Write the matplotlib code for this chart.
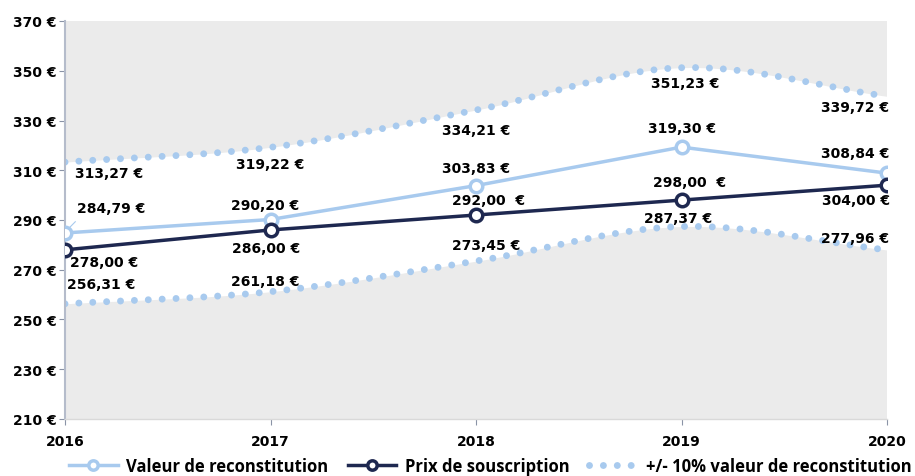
import matplotlib
matplotlib.use("Agg")
import matplotlib.pyplot as plt
import numpy as np

plt.rcParams['font.family'] = ['DejaVu Sans']
plt.rcParams['font.weight'] = 'bold'

# data
years = [2016, 2017, 2018, 2019, 2020]
valeur = [284.79, 290.20, 303.83, 319.30, 308.84]
prix = [278.00, 286.00, 292.00, 298.00, 304.00]
haut = [313.27, 319.22, 334.21, 351.23, 339.72]
bas = [256.31, 261.18, 273.45, 287.37, 277.96]
yticks = [210, 230, 250, 270, 290, 310, 330, 350, 370]

prix_labels = ["278,00 €", "286,00 €", "292,00  €", "298,00  €", "304,00 €"]

light = "#a8caee"
navy = "#1e2850"
grey = "#ebebeb"


def fr(v):
    return f"{v:.2f}".replace(".", ",") + " €"


# smooth curve through points (catmull-rom), like the spreadsheet smoothing
def smooth(x, y, n=40):
    x = np.asarray(x, float)
    y = np.asarray(y, float)
    px = np.concatenate([[2 * x[0] - x[1]], x, [2 * x[-1] - x[-2]]])
    py = np.concatenate([[2 * y[0] - y[1]], y, [2 * y[-1] - y[-2]]])
    xs, ys = [], []
    for i in range(1, len(px) - 2):
        t = np.linspace(0, 1, n, endpoint=(i == len(px) - 3))
        for arr, out in ((px, xs), (py, ys)):
            p0, p1, p2, p3 = arr[i - 1], arr[i], arr[i + 1], arr[i + 2]
            out.append(0.5 * (2 * p1 + (-p0 + p2) * t + (2 * p0 - 5 * p1 + 4 * p2 - p3) * t ** 2
                              + (-p0 + 3 * p1 - 3 * p2 + p3) * t ** 3))
    return np.concatenate(xs), np.concatenate(ys)


fig = plt.figure(figsize=(9.15, 4.77), dpi=100)
ax = fig.add_axes([65 / 915, 57 / 477, 822 / 915, 398 / 477])
ax.set_facecolor(grey)

hx, hy = smooth(years, haut)
bx, by = smooth(years, bas)
ax.fill_between(hx, by, hy, color="white", lw=0, zorder=1)

dots = dict(color=light, lw=5, linestyle=(0, (0.001, 2.0)), dash_capstyle="round", zorder=2)
ax.plot(hx, hy, **dots)
l3, = ax.plot(bx, by, label="+/- 10% valeur de reconstitution", **dots)

l1, = ax.plot(years, valeur, color=light, lw=2.5, marker="o", ms=9, mfc="white",
              mec=light, mew=2.5, zorder=4, label="Valeur de reconstitution")
l2, = ax.plot(years, prix, color=navy, lw=2.5, marker="o", ms=9, mfc="white",
              mec=navy, mew=2.5, zorder=4, label="Prix de souscription")

ax.set_xlim(2016, 2020)
ax.set_ylim(210, 370)
ax.set_yticks(yticks)
ax.set_yticklabels([f"{v} €" for v in yticks])
ax.set_xticks(years)
ax.tick_params(axis="both", labelsize=10, colors="#8a93a6", labelcolor="black", length=4)
ax.tick_params(axis="y", pad=2)
ax.tick_params(axis="x", pad=7)
for s in ["top", "right"]:
    ax.spines[s].set_visible(False)
ax.spines["left"].set_color("#b5bccb")
ax.spines["left"].set_linewidth(1.5)
ax.spines["bottom"].set_color("#d9d9d9")
ax.spines["bottom"].set_linewidth(1)

fs = 10
kw = dict(fontsize=fs, fontweight="bold", color="black", zorder=6)

# upper band labels (below points)
h_off = [(10, -11, "left"), (0, -17, "center"), (0, -20, "center"), (4, -15, "center"), (-32, -11, "center")]
for x, v, (dx, dy, ha) in zip(years, haut, h_off):
    ax.annotate(fr(v), (x, v), xytext=(dx, dy), textcoords="offset pixels", ha=ha, va="center", **kw)

# valeur labels (above points)
v_off = [(12, 25, "left"), (-5, 15, "center"), (0, 18, "center"), (0, 19, "center"), (-32, 20, "center")]
for x, v, (dx, dy, ha) in zip(years, valeur, v_off):
    ax.annotate(fr(v), (x, v), xytext=(dx, dy), textcoords="offset pixels", ha=ha, va="center", **kw)
ax.plot([2016.006, 2016.05], [285.6, 289.3], color=light, lw=0.8, zorder=3)

# prix labels
p_off = [(5, -12, "left"), (-4, -18, "center"), (13, 15, "center"), (8, 18, "center"), (-31, -15, "center")]
for x, v, lab, (dx, dy, ha) in zip(years, prix, prix_labels, p_off):
    ax.annotate(lab, (x, v), xytext=(dx, dy), textcoords="offset pixels", ha=ha, va="center", **kw)

# lower band labels (above points)
b_off = [(2, 20, "left"), (-5, 11, "center"), (10, 16, "center"), (-3, 9, "center"), (-32, 12, "center")]
for x, v, (dx, dy, ha) in zip(years, bas, b_off):
    ax.annotate(fr(v), (x, v), xytext=(dx, dy), textcoords="offset pixels", ha=ha, va="center", **kw)

fig.legend(handles=[l1, l2, l3], loc="lower center", bbox_to_anchor=(0.536, -0.03), ncol=3,
           frameon=False, handlelength=2.9, columnspacing=1.2, handletextpad=0.5, markerscale=0.75,
           prop={'family': ['Open Sans', 'DejaVu Sans'], 'weight': 'bold', 'size': 12})

fig.savefig("out.png", dpi=100)
